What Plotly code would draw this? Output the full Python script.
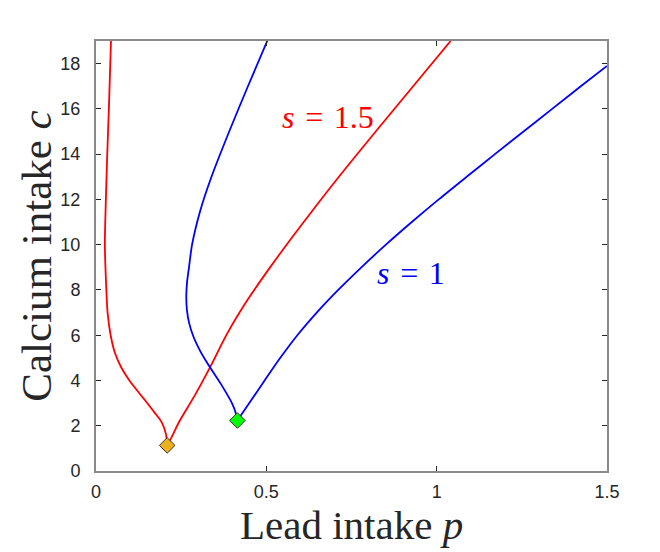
import plotly.graph_objects as go

# s = 1.5 (red) branches
red_left_p = [0.044, 0.038, 0.033, 0.029, 0.026, 0.029, 0.034, 0.043, 0.056, 0.075, 0.098, 0.140, 0.171, 0.193, 0.205, 0.209]
red_left_c = [19.0, 16.1, 14.0, 12.0, 10.0, 8.5, 7.0, 6.0, 5.2, 4.55, 4.0, 3.2, 2.6, 2.15, 1.65, 1.13]
red_right_p = [0.209, 0.222, 0.245, 0.293, 0.335, 0.385, 0.444, 0.512, 0.577, 0.629, 0.713, 0.832, 1.041]
red_right_c = [1.13, 1.5, 2.2, 3.42, 4.59, 6.07, 7.54, 9.02, 10.35, 11.38, 13.0, 15.2, 19.0]

# s = 1 (blue) branches
blue_left_p = [0.504, 0.446, 0.391, 0.339, 0.306, 0.282, 0.273, 0.267, 0.265, 0.267, 0.274, 0.287, 0.306, 0.328, 0.366, 0.400, 0.411, 0.415]
blue_left_c = [19.05, 17.0, 15.0, 13.0, 11.5, 10.0, 9.0, 8.3, 7.7, 7.1, 6.5, 5.9, 5.3, 4.74, 3.86, 2.97, 2.53, 2.23]
blue_right_p = [0.415, 0.450, 0.495, 0.541, 0.591, 0.648, 0.711, 0.779, 0.851, 0.927, 1.006, 1.088, 1.171, 1.255, 1.339, 1.423, 1.500]
blue_right_c = [2.23, 3.0, 4.0, 5.0, 6.0, 7.0, 8.0, 9.0, 10.0, 11.0, 12.0, 13.0, 14.0, 15.0, 16.0, 17.0, 17.9]

# special points
cusp_p = [0.209, 0.415]
cusp_c = [1.13, 2.23]
cusp_colors = ["#EDB120", "#00FF00"]

x_ticks = [0, 0.5, 1, 1.5]
x_tick_labels = ["0", "0.5", "1", "1.5"]
y_ticks = [0, 2, 4, 6, 8, 10, 12, 14, 16, 18]

fig = go.Figure()
line_w = 1.8
for px, cy, col in [(red_left_p, red_left_c, "#FF0000"), (red_right_p, red_right_c, "#FF0000"),
                    (blue_left_p, blue_left_c, "#0000FF"), (blue_right_p, blue_right_c, "#0000FF")]:
    fig.add_trace(go.Scatter(x=px, y=cy, mode="lines",
                             line=dict(color=col, width=line_w, shape="spline", smoothing=0.8),
                             showlegend=False, hoverinfo="skip"))

fig.add_trace(go.Scatter(x=cusp_p, y=cusp_c, mode="markers",
                         marker=dict(symbol="diamond", size=12, color=cusp_colors,
                                     line=dict(color="#333333", width=1)),
                         showlegend=False, hoverinfo="skip"))

serif = "Liberation Serif, DejaVu Serif, serif"
sp = "&#8196;"
fig.add_annotation(x=0.540, y=15.64, xanchor="left", text="<i>s</i>" + sp + "=" + sp + "1.5", showarrow=False,
                   font=dict(family=serif, size=32, color="#FF0000"))
fig.add_annotation(x=0.819, y=8.74, xanchor="left", text="<i>s</i>" + sp + "=" + sp + "1", showarrow=False,
                   font=dict(family=serif, size=32, color="#0000FF"))

# axis titles (paper coordinates derived from the plot box 96..607 x 41..471)
fig.add_annotation(xref="paper", yref="paper", x=0.5, y=-0.125, yanchor="middle",
                   text="Lead intake <i>p</i>", showarrow=False,
                   font=dict(family=serif, size=41, color="#262626"))
fig.add_annotation(xref="paper", yref="paper", x=-0.118, y=0.5, xanchor="center", yanchor="middle",
                   textangle=-90, text="Calcium intake <i>c</i>", showarrow=False,
                   font=dict(family=serif, size=43, color="#262626"))

axis_common = dict(showline=True, linecolor="#8a8a8a", linewidth=2, mirror="ticks",
                   ticks="inside", ticklen=5, tickcolor="#262626", tickwidth=1,
                   showgrid=False, zeroline=False,
                   tickfont=dict(family="Liberation Sans, Arial, sans-serif", size=18, color="#262626"))

fig.update_layout(
    width=660, height=552,
    margin=dict(l=96, r=53, t=41, b=81),
    plot_bgcolor="white", paper_bgcolor="white",
    xaxis=dict(range=[0, 1.5], tickvals=x_ticks, ticktext=x_tick_labels, ticklabelstandoff=3,
               **axis_common),
    yaxis=dict(range=[0, 19], tickvals=y_ticks, ticklabelstandoff=10,
               **axis_common),
)

fig.write_html("out.html")
